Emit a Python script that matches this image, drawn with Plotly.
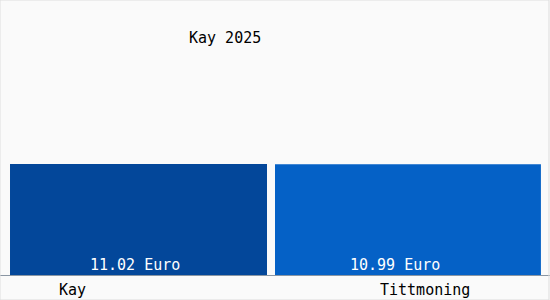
import plotly.graph_objects as go

categories = ["Kay", "Tittmoning"]
values = [11.02, 10.99]
value_labels = ["11.02 Euro", "10.99 Euro"]
title_text = "Kay 2025"

colors = ["#03479a", "#0561c6"]
font = "DejaVu Sans Mono"

fig = go.Figure()
fig.add_trace(go.Bar(
    x=categories, y=values,
    marker=dict(color=colors, line=dict(width=0)),
    width=[0.9345, 0.967],
    offset=[-0.4636, -0.5],
    hoverinfo="skip",
))

annotations = []
label_shift = [-65, 12]
value_shift = [-3, -18]
for i, c in enumerate(categories):
    annotations.append(dict(x=c, y=0, xref="x", yref="y", text=c, showarrow=False,
                            yanchor="top", yshift=-4, xshift=label_shift[i],
                            font=dict(family=font, size=15, color="#000000")))
    annotations.append(dict(x=c, y=0, xref="x", yref="y", text=value_labels[i], showarrow=False,
                            yanchor="bottom", yshift=-1, xshift=value_shift[i],
                            font=dict(family=font, size=15, color="#ffffff")))
annotations.append(dict(x=0.409, y=1 - 38 / 275, xref="paper", yref="paper", text=title_text,
                        showarrow=False, yanchor="middle",
                        font=dict(family=font, size=15, color="#000000")))

fig.update_layout(
    width=550, height=300,
    margin=dict(l=0, r=0, t=0, b=25),
    paper_bgcolor="#fafafa", plot_bgcolor="#fafafa",
    showlegend=False,
    xaxis=dict(range=[-0.5, 1.5], showticklabels=False, showgrid=False, zeroline=False,
               showline=True, linecolor="#8a96a3", linewidth=1, fixedrange=True),
    yaxis=dict(range=[0, 27.3], showticklabels=False, showgrid=False, zeroline=False,
               fixedrange=True),
    annotations=annotations,
    shapes=[dict(type="rect", xref="paper", yref="paper", x0=0, x1=0.9982,
                 y0=-25 / 275, y1=1, line=dict(color="#dddddd", width=1))],
)

fig.write_html("out.html", config={"displayModeBar": False})
